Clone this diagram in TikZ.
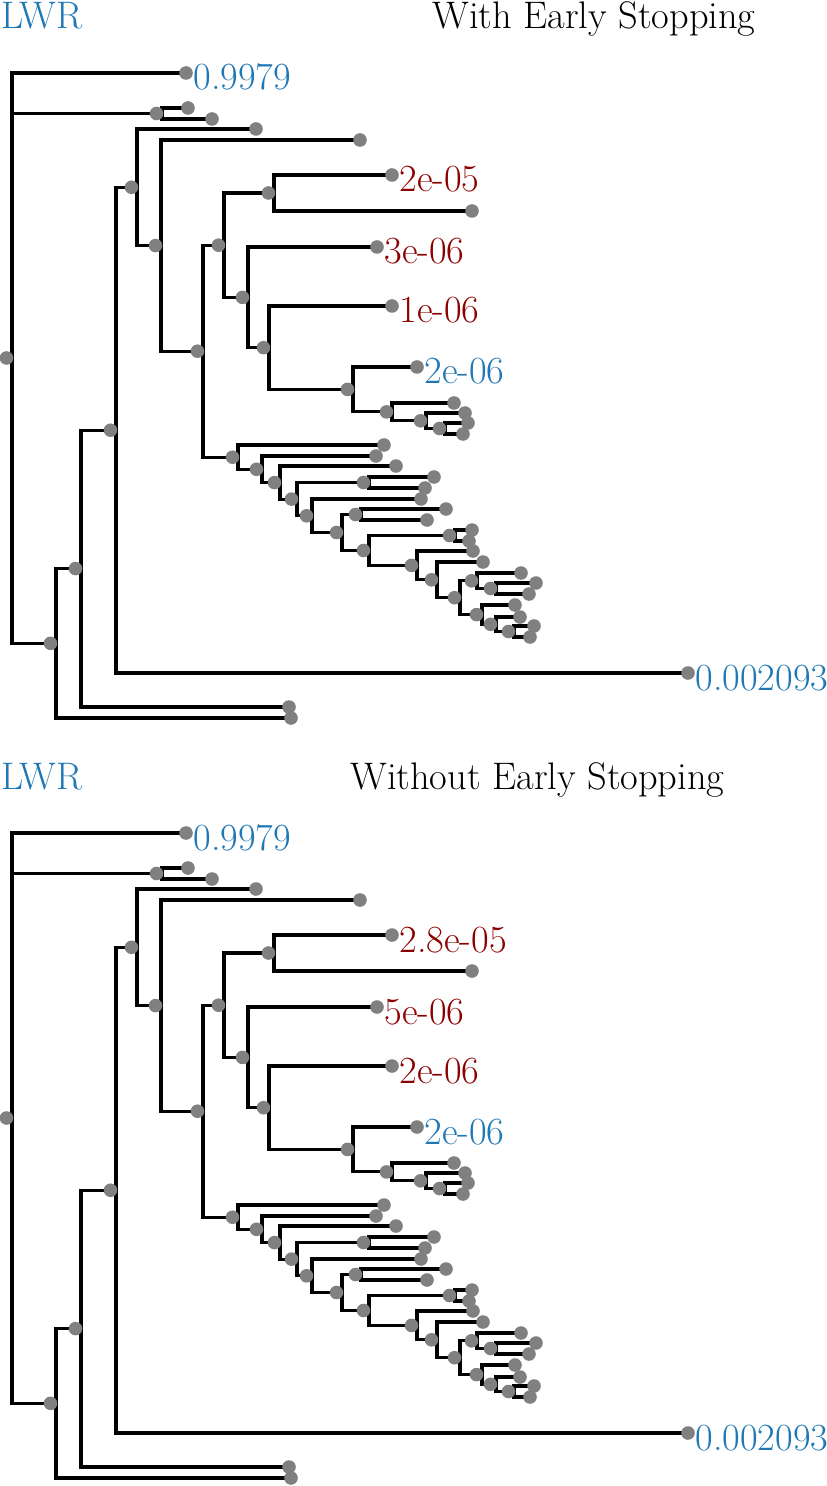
\documentclass[tikz,border=0pt]{standalone}
\usepackage{xcolor}
\usepackage{tikz}

\definecolor{lwrblue}{HTML}{1F77B4}
\definecolor{lwrred}{HTML}{8B0000}

\begin{document}
\begin{tikzpicture}[x=0.5pt,y=-0.5pt,font=\fontsize{19.2}{23}\selectfont,
  branch/.style={line width=1.55pt,black},
  tipdot/.style={fill=gray},
  tiplabel/.style={anchor=base west,inner sep=0pt}]
  \useasboundingbox (0,0) rectangle (826,1486);
  \foreach \dy/\ttl/\tx/\la/\lb/\lc in {0/With Early Stopping/432/2e-05/3e-06/1e-06,
      760/Without Early Stopping/350/2.8e-05/5e-06/2e-06} {
  \begin{scope}[yshift=-\dy*0.5pt]
    % headings
    \node[tiplabel,text=lwrblue] (lwr) at (1,29) {LWR};
    \node[tiplabel] (ttl) at (\tx,29) {\ttl};
    % tips
    \foreach \n/\x/\y in {t1/186/73, t2/188/108, t3/212/119, t4/256/129, t5/360/140,
        t6/392/175, t7/472/211, t8/377/247, t9/392/306, t10/417/367, t11/454/403,
        t12/465/413, t13/468/423, t14/463/434, t15/384/445, t16/376/456, t17/396/466,
        t18/434/477, t19/425/488, t20/421/499, t21/446/509, t22/427/520, t23/472/530,
        t24/469/541, t25/473/551, t26/483/562, t27/521/573, t28/536/583, t29/529/594,
        t30/515/605, t31/520/617, t32/534/626, t33/530/637, t34/688/673, t35/289/707,
        t36/291/718}
      \coordinate (\n) at (\x,\y);
    % inner nodes (x of the vertical bar)
    \foreach \n/\x/\y in {i0/12/358, i1/162/113.5, i2/56/643.3, i3/81/568.6, i4/116/430.2,
        i5/137/187.3, i6/161/245.6, i7/203/351.2, i8/224/245.2, i9/274/193,
        i10/248/297.4, i11/269/347.7, i12/353/389.4, i13/392/411.9, i14/426/420.8,
        i15/445/428.5, i16/238/457.2, i17/262/469.3, i18/280/482.6, i19/297/499.1,
        i20/369/482.5, i21/312/515.8, i22/342/532.5, i23/361/514.5, i24/369/550.5,
        i25/455/535.5, i26/417/565.4, i27/437/579.8, i28/460/597.7, i29/477/580.8,
        i30/496/588.5, i31/482/614.6, i32/496/624.3, i33/514/631.5}
      \coordinate (\n) at (\x,\y);
    % branches
    \foreach \a/\b in {i0/t1, i0/i1, i0/i2, i1/t2, i1/t3, i2/i3, i2/t36, i3/i4, i3/t35,
        i4/i5, i4/t34, i5/t4, i5/i6, i6/t5, i6/i7, i7/i8, i7/i16, i8/i9, i8/i10,
        i9/t6, i9/t7, i10/t8, i10/i11, i11/t9, i11/i12, i12/t10, i12/i13,
        i13/t11, i13/i14, i14/t12, i14/i15, i15/t13, i15/t14,
        i16/t15, i16/i17, i17/t16, i17/i18, i18/t17, i18/i19, i19/i20, i19/i21,
        i20/t18, i20/t19, i21/t20, i21/i22, i22/i23, i22/i24, i23/t21, i23/t22,
        i24/i25, i24/i26, i25/t23, i25/t24, i26/t25, i26/i27, i27/t26, i27/i28,
        i28/i29, i28/i31, i29/t27, i29/i30, i30/t28, i30/t29, i31/t30, i31/i32,
        i32/t31, i32/i33, i33/t32, i33/t33}
      \draw[branch] (\a) |- (\b);
    % dots
    \foreach \k in {0,...,33}
      \fill[tipdot] ([xshift=-2.75pt]i\k) circle (3.4pt);
    \foreach \k in {1,...,36}
      \fill[tipdot] (t\k) circle (3.4pt);
    % values
    \node[tiplabel,text=lwrblue] (v1) at ([shift={(7,17)}]t1) {0.9979};
    \node[tiplabel,text=lwrred] (v6) at ([shift={(7,17)}]t6) {\la};
    \node[tiplabel,text=lwrred] (v8) at ([shift={(7,17)}]t8) {\lb};
    \node[tiplabel,text=lwrred] (v9) at ([shift={(7,17)}]t9) {\lc};
    \node[tiplabel,text=lwrblue] (v10) at ([shift={(7,17)}]t10) {2e-06};
    \node[tiplabel,text=lwrblue] (v34) at ([shift={(7,17)}]t34) {0.002093};
  \end{scope}
  }
\end{tikzpicture}
\end{document}
